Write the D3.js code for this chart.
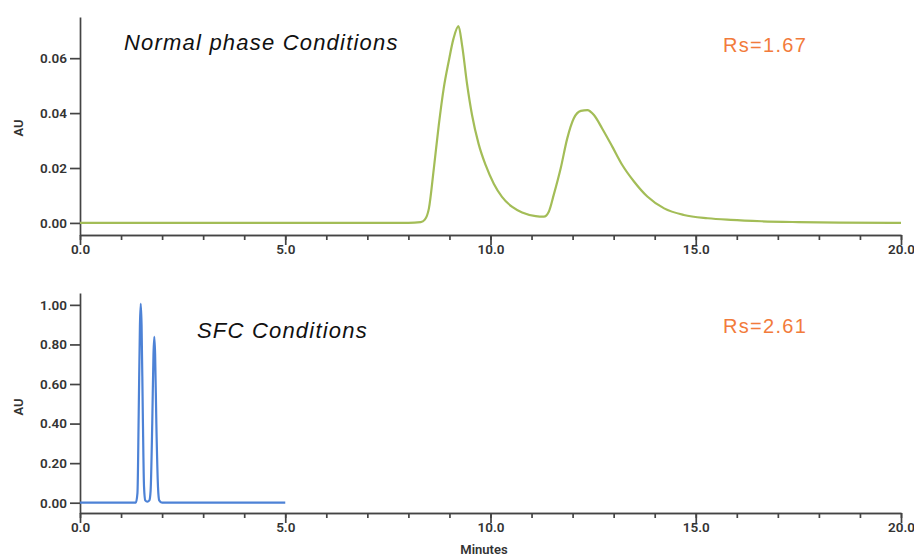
<html>
<head>
<title>Chromatogram comparison</title>
  <meta charset="utf-8">
  <script src="https://d3js.org/d3.v7.min.js"></script>
<style>
body { margin: 0; background: #fff; }
.axis path, .axis line { stroke: #444; stroke-width: 1.7; }
.axis text { font-family: Roboto, "Liberation Sans", sans-serif; font-size: 13.5px; font-weight: 600; fill: #333; }
.ylab { font-family: Roboto, "Liberation Sans", sans-serif; font-size: 13px; font-weight: 600; fill: #333; }
.title { font-family: "Liberation Sans", Arial, sans-serif; font-style: italic; font-size: 22px; letter-spacing: 1.2px; fill: #111; }
.rs { font-family: "Liberation Sans", Arial, sans-serif; font-size: 20px; letter-spacing: 1.3px; fill: #f27b3b; }
</style>
</head>
<body>
<script>
// normal phase trace (minutes, AU)
var npTime = [0, 1, 2, 4, 6, 8, 8.3, 8.4, 8.5, 8.62, 8.74, 8.86, 8.98, 9.1, 9.22, 9.31, 9.43, 9.55, 9.71, 9.88,
              10.08, 10.28, 10.53, 10.77, 11.1, 11.3, 11.42, 11.54, 11.71, 11.87, 12.03, 12.2, 12.36, 12.52,
              12.72, 12.97, 13.21, 13.5, 13.82, 14.23, 14.71, 15.29, 15.85, 16.6, 17.5, 18.5, 20];
var npAU   = [0, 0, 0, 0, 0, 0, 0.0003, 0.0012, 0.0053, 0.0199, 0.0356, 0.049, 0.0587, 0.0672, 0.0717, 0.0645,
              0.0505, 0.0393, 0.0288, 0.0211, 0.0143, 0.0095, 0.0058, 0.0038, 0.0025, 0.0023, 0.0041, 0.0102,
              0.0199, 0.0308, 0.0381, 0.0408, 0.0411, 0.0393, 0.0344, 0.0277, 0.0211, 0.015, 0.0096, 0.0053,
              0.0029, 0.0017, 0.0011, 0.0006, 0.0003, 0.0001, 0];

// SFC trace
var sfcTime = [0, 1, 1.36, 1.4, 1.43, 1.46, 1.48, 1.5, 1.53, 1.56, 1.59, 1.64, 1.69, 1.72, 1.76, 1.79, 1.81,
               1.83, 1.86, 1.9, 1.93, 2.0, 3, 4, 5];
var sfcAU   = [0, 0, 0, 0.05, 0.45, 0.9, 1.005, 0.9, 0.45, 0.08, 0.012, 0.005, 0.012, 0.06, 0.4, 0.75, 0.838,
               0.75, 0.4, 0.08, 0.012, 0, 0, 0, 0];

var xMajor = [0, 5, 10, 15, 20];
var xMinor = d3.range(0, 21);
var npTicks = [0, 0.02, 0.04, 0.06];
var sfcTicks = [0, 0.2, 0.4, 0.6, 0.8, 1.0];

var width = 914, height = 557;

var svg = d3.select("body").append("svg")
    .attr("width", width)
    .attr("height", height);

// one panel: x axis, y axis, trace, labels
function panel(opt) {
  var x = d3.scaleLinear().domain([0, 20]).range([80, 901]);
  var y = d3.scaleLinear().domain(opt.yDomain).range([opt.bottom, opt.top]);

  // minor x ticks
  svg.append("g")
      .attr("class", "axis")
      .attr("transform", "translate(0," + opt.bottom + ")")
      .call(d3.axisBottom(x).tickValues(xMinor).tickSize(5).tickSizeOuter(0).tickFormat(""));

  // major x ticks + labels
  svg.append("g")
      .attr("class", "axis")
      .attr("transform", "translate(0," + opt.bottom + ")")
      .call(d3.axisBottom(x).tickValues(xMajor).tickSize(10).tickSizeOuter(0).tickFormat(d3.format(".1f")))
    .selectAll("text")
      .attr("dy", "0.45em");

  // y axis
  svg.append("g")
      .attr("class", "axis")
      .attr("transform", "translate(80,0)")
      .call(d3.axisLeft(y).tickValues(opt.yTicks).tickSize(10).tickSizeOuter(0).tickFormat(d3.format(".2f")));

  // trace
  var pts = opt.t.map(function(d, i) { return [d, opt.v[i]]; });
  svg.append("path")
      .datum(pts)
      .attr("fill", "none")
      .attr("stroke", opt.color)
      .attr("stroke-width", 2.2)
      .attr("d", d3.line()
          .x(function(d) { return x(d[0]); })
          .y(function(d) { return y(d[1]); })
          .curve(d3.curveMonotoneX));

  // AU label
  svg.append("text")
      .attr("class", "ylab")
      .attr("transform", "translate(23," + opt.auY + ") rotate(-90)")
      .style("text-anchor", "middle")
      .text("AU");

  svg.append("text")
      .attr("class", "title")
      .attr("x", opt.titleX)
      .attr("y", opt.titleY)
      .text(opt.title);

  svg.append("text")
      .attr("class", "rs")
      .attr("x", 723)
      .attr("y", opt.rsY)
      .text(opt.rs);
}

panel({ t: npTime, v: npAU, yDomain: [-0.0044, 0.075], yTicks: npTicks, top: 17, bottom: 235,
        color: "#a3bd57", title: "Normal phase Conditions", titleX: 124, titleY: 50,
        rs: "Rs=1.67", rsY: 51.5, auY: 128 });

panel({ t: sfcTime, v: sfcAU, yDomain: [-0.052, 1.06], yTicks: sfcTicks, top: 293, bottom: 513,
        color: "#4d82d6", title: "SFC Conditions", titleX: 197, titleY: 338,
        rs: "Rs=2.61", rsY: 333, auY: 407 });

// x axis title
svg.append("text")
    .attr("x", 484)
    .attr("y", 554)
    .style("text-anchor", "middle")
    .style("font-family", "Roboto, 'Liberation Sans', sans-serif")
    .style("font-size", "13px")
    .style("font-weight", "600")
    .style("fill", "#333")
    .text("Minutes");

</script>
</body>
</html>
